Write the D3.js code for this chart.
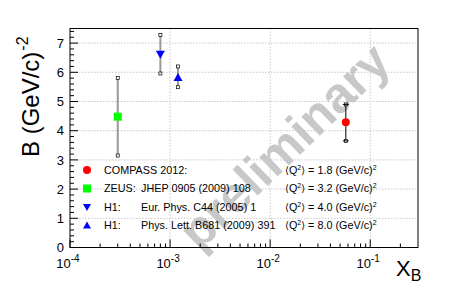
<!DOCTYPE html>
<html><head><meta charset="utf-8">
<script src="https://cdn.jsdelivr.net/npm/d3@7"></script>
<style>body{margin:0;background:#fff}svg{display:block;font-family:"Liberation Sans",Arial,sans-serif}</style>
</head><body>
<svg id="c" width="465" height="292"></svg>
<script>
const series = ["COMPASS", "ZEUS", "H1a", "H1b"];
const xValues = [0.057, 3.0e-4, 8.0e-4, 1.2e-3];
const bValues = [4.29, 4.48, 6.62, 5.82];
const errLow = [0.64, 1.33, 0.66, 0.33];
const errHigh = [0.61, 1.33, 0.66, 0.38];
const colors = ["#ff0000", "#00ff00", "#0000ff", "#0000ff"];
const shapes = ["circle", "square", "tdown", "tup"];
const legendExp = ["COMPASS 2012:", "ZEUS:", "H1:", "H1:"];
const legendRef = ["", "JHEP 0905 (2009) 108", "Eur. Phys. C44 (2005) 1", "Phys. Lett. B681 (2009) 391"];
const legendQ2 = ["1.8", "3.2", "4.0", "8.0"];
const yTicks = [0,1,2,3,4,5,6,7];
const xDecades = [1e-4, 1e-3, 1e-2, 1e-1];
const xExp = ["-4", "-3", "-2", "-1"];

const svg = d3.select("#c");
const L=70, R=418, T=28.5, B=247.5;
const x = d3.scaleLog().domain([1e-4, 0.3]).range([L, R]);
const y = d3.scaleLinear().domain([0, 7.5]).range([B, T]);

// grid
const g = svg.append("g");
yTicks.filter(v=>v>0).forEach(v=>{
  g.append("line").attr("x1",L).attr("x2",R).attr("y1",y(v)).attr("y2",y(v))
   .attr("stroke","#c8c8c8").attr("stroke-dasharray","1.5,1.5").attr("stroke-width",1);
});
xDecades.filter(v=>v>1e-4).forEach(v=>{
  g.append("line").attr("x1",x(v)).attr("x2",x(v)).attr("y1",T).attr("y2",B)
   .attr("stroke","#c8c8c8").attr("stroke-dasharray","1.5,1.5").attr("stroke-width",1);
});

// watermark
svg.append("text").attr("transform","translate(287,149) rotate(-44)")
  .attr("text-anchor","middle").attr("dominant-baseline","middle")
  .attr("font-size",50).attr("font-weight","bold").attr("fill","#c8c8c8")
  .text("preliminary");

// frame
svg.append("rect").attr("x",L).attr("y",T).attr("width",R-L).attr("height",B-T)
  .attr("fill","none").attr("stroke","#000").attr("stroke-width",1);

// y ticks
const yMinor = d3.range(0, 7.5001, 0.2);
yMinor.forEach(v=>{
  const major = Math.abs(v-Math.round(v))<1e-6;
  svg.append("line").attr("x1",L).attr("x2",L+(major?8:4)).attr("y1",y(v)).attr("y2",y(v))
    .attr("stroke","#000").attr("stroke-width",1);
});
yTicks.forEach(v=>{
  svg.append("text").attr("x",L-6).attr("y",y(v)).attr("dy","0.36em")
    .attr("text-anchor","end").attr("font-size",13).text(v);
});
// x ticks
const xMinor = [];
[1e-4,1e-3,1e-2,1e-1].forEach(d=>{ for(let k=1;k<10;k++){ const v=d*k; if(v<=0.3) xMinor.push(v);} });
xMinor.forEach(v=>{
  const major = xDecades.some(d=>Math.abs(d-v)/d<1e-6);
  svg.append("line").attr("x1",x(v)).attr("x2",x(v)).attr("y1",B).attr("y2",B-(major?8:4))
    .attr("stroke","#000").attr("stroke-width",1);
});
xDecades.forEach((v,i)=>{
  const t = svg.append("text").attr("x",x(v)-2).attr("y",268).attr("text-anchor","middle").attr("font-size",13);
  t.append("tspan").text("10");
  t.append("tspan").attr("dy",-6).attr("font-size",10).text(xExp[i]);
});

// axis titles
const yt = svg.append("text").attr("transform","translate(39,157) rotate(-90)")
  .attr("text-anchor","start").attr("font-size",24);
yt.append("tspan").text("B (GeV/c)");
yt.append("tspan").attr("dy",-11).attr("dx",1).attr("font-size",16).text("-2");
const xt = svg.append("text").attr("x",396).attr("y",276).attr("font-size",22);
xt.append("tspan").text("X");
xt.append("tspan").attr("dy",5).attr("font-size",16).text("B");

function marker(sel, shape, cx, cy, color, s){
  if(shape==="circle") sel.append("circle").attr("cx",cx).attr("cy",cy).attr("r",s/2).attr("fill",color);
  else if(shape==="square") sel.append("rect").attr("x",cx-s/2).attr("y",cy-s/2).attr("width",s).attr("height",s).attr("fill",color);
  else if(shape==="tdown") sel.append("path").attr("d",`M${cx-s/2},${cy-s/2.6}L${cx+s/2},${cy-s/2.6}L${cx},${cy+s/2}Z`).attr("fill",color);
  else sel.append("path").attr("d",`M${cx-s/2},${cy+s/2.6}L${cx+s/2},${cy+s/2.6}L${cx},${cy-s/2}Z`).attr("fill",color);
}

// data
const pts = svg.append("g");
series.forEach((s,i)=>{
  const cx = x(xValues[i]), cy = y(bValues[i]);
  const yl = y(bValues[i]-errLow[i]), yh = y(bValues[i]+errHigh[i]);
  const isC = shapes[i]==="circle";
  pts.append("line").attr("x1",cx).attr("x2",cx).attr("y1",yh+1.5).attr("y2",yl-1.5)
    .attr("stroke", isC?"#000":"#999").attr("stroke-width", isC?1:2);
  if(isC){
    [yh,yl].forEach(yy=>pts.append("line").attr("x1",cx-3).attr("x2",cx+3).attr("y1",yy).attr("y2",yy).attr("stroke","#000"));
  }
  [yh,yl].forEach(yy=>pts.append("rect").attr("x",cx-1.5).attr("y",yy-1.5).attr("width",3).attr("height",3)
     .attr("fill","none").attr("stroke","#000").attr("stroke-width",0.7));
  marker(pts, shapes[i], cx, cy, colors[i], shapes[i]==="square"?8:(isC?8:9));
});

// legend
const lg = svg.append("g").attr("font-size",10.8);
const rowY = [170, 188.5, 207, 225.5];
series.forEach((s,i)=>{
  marker(lg, shapes[i], 87, rowY[i], colors[i], 8);
  lg.append("text").attr("x",104).attr("y",rowY[i]).attr("dy","0.36em").text(legendExp[i]);
  if(legendRef[i]) lg.append("text").attr("x",141).attr("y",rowY[i]).attr("dy","0.36em").text(legendRef[i]);
  const t = lg.append("text").attr("x",285).attr("y",rowY[i]).attr("dy","0.36em");
  t.append("tspan").attr("font-family","DejaVu Sans").attr("font-size",10).text("\u27E8");
  t.append("tspan").text("Q");
  t.append("tspan").attr("dy",-4).attr("font-size",7).text("2");
  t.append("tspan").attr("dy",4).attr("font-family","DejaVu Sans").attr("font-size",10).text("\u27E9");
  t.append("tspan").text(" = " + legendQ2[i] + " (GeV/c)");
  t.append("tspan").attr("dy",-4).attr("font-size",7).text("2");
});
</script>
</body></html>
